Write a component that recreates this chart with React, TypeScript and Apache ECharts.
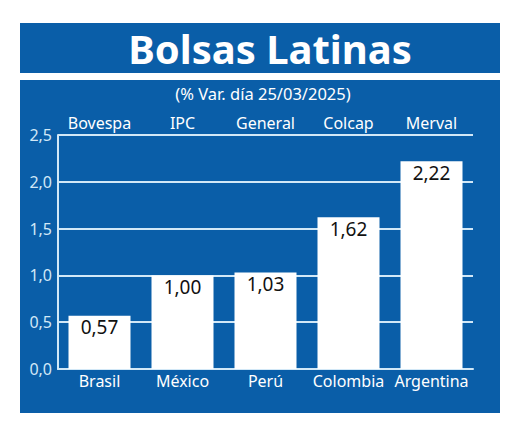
import React, { useEffect, useRef } from "react";
import * as echarts from "echarts";

const countries = ["Brasil", "México", "Perú", "Colombia", "Argentina"];
const indices = ["Bovespa", "IPC", "General", "Colcap", "Merval"];
const values = [0.57, 1.0, 1.03, 1.62, 2.22];
const title = "Bolsas Latinas";
const subtitle = "(% Var. día 25/03/2025)";

const BLUE = "#0a5ea8";
const LINE = "#d2e8f7";
const FONT = "'Noto Sans', 'Open Sans', sans-serif";

export default function App() {
  const ref = useRef<HTMLDivElement>(null);
  useEffect(() => {
    document.body.style.margin = "0";
    const chart = echarts.init(ref.current!, undefined, { renderer: "svg" });
    chart.setOption({
      animation: false,
      backgroundColor: "#ffffff",
      textStyle: { fontFamily: FONT },
      graphic: [
        { type: "rect", z: -10, shape: { x: 20, y: 23, width: 480, height: 50 }, style: { fill: BLUE } },
        { type: "rect", z: -10, shape: { x: 20, y: 80, width: 480, height: 333 }, style: { fill: BLUE } },
        {
          type: "text", x: 270, y: 48,
          style: { text: title, fill: "#fff", font: `bold 40px ${FONT}`, textAlign: "center", textVerticalAlign: "middle" },
        },
        {
          type: "text", x: 263, y: 93,
          style: { text: subtitle, fill: "#fff", font: `16.5px ${FONT}`, textAlign: "center", textVerticalAlign: "middle" },
        },
      ],
      grid: { left: 58, right: 47, top: 135, bottom: 60 },
      xAxis: [
        {
          type: "category",
          data: countries,
          position: "bottom",
          axisLine: { lineStyle: { color: LINE, width: 2 } },
          axisTick: { inside: true, length: 6, lineStyle: { color: LINE, width: 2 } },
          axisLabel: { color: "#fff", fontSize: 16, margin: 4, fontFamily: FONT, interval: 0 },
        },
        {
          type: "category",
          data: indices,
          position: "top",
          axisLine: { show: false },
          axisTick: { show: false },
          axisLabel: { color: "#fff", fontSize: 16, margin: 4, fontFamily: FONT, interval: 0 },
        },
      ],
      yAxis: {
        type: "value",
        min: 0,
        max: 2.5,
        interval: 0.5,
        axisLine: { show: true, lineStyle: { color: LINE, width: 2 } },
        axisTick: { show: false },
        splitLine: { lineStyle: { color: LINE, width: 2 } },
        axisLabel: {
          color: LINE, fontSize: 16, margin: 6, fontFamily: FONT,
          formatter: (v: number) => v.toFixed(1).replace(".", ","),
        },
      },
      series: [
        {
          type: "bar",
          data: values,
          barWidth: 62,
          itemStyle: { color: "#ffffff" },
          label: {
            show: true,
            position: "insideTop",
            distance: 2,
            color: "#111",
            fontSize: 19,
            fontFamily: FONT,
            formatter: (p: any) => p.value.toFixed(2).replace(".", ","),
          },
        },
      ],
    });
    return () => chart.dispose();
  }, []);
  return <div ref={ref} style={{ width: 520, height: 429, position: "absolute", left: 0, top: 0 }} />;
}
